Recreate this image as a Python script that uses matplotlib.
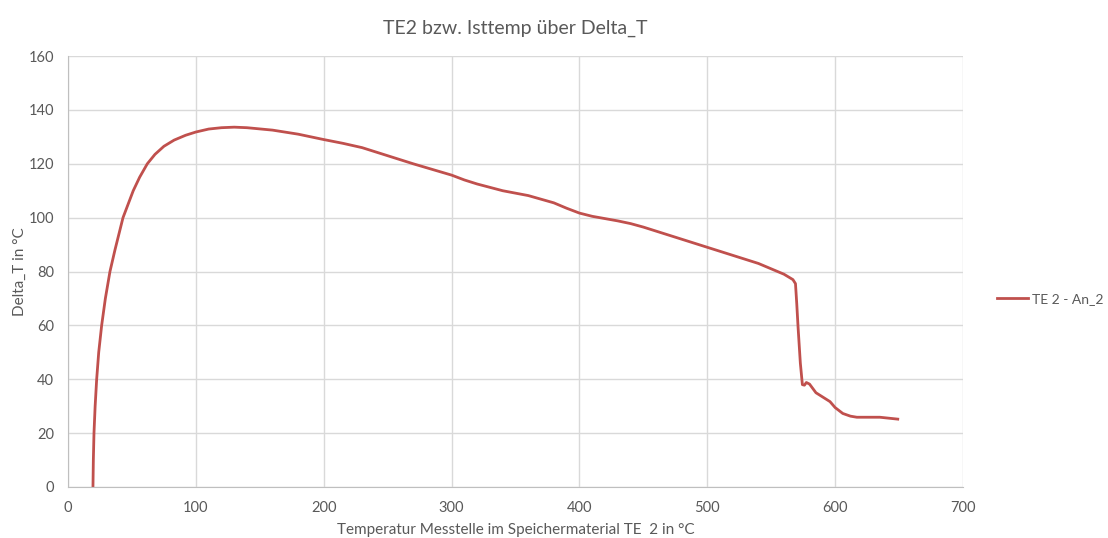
import matplotlib.pyplot as plt

# TE 2 temperature vs. Delta_T
temp_te2 = [19.5, 19.8, 20.3, 21.2, 22.4, 24.0, 26.3, 29.2, 32.8, 36.7, 43, 47,
            51, 56, 62, 68, 75, 83, 92, 100, 110, 120, 130, 140, 160, 180, 200,
            215, 230, 250, 270, 300, 310, 320, 340, 360, 380, 390, 400, 410, 430,
            440, 450, 460, 470, 480, 490, 500, 510, 520, 530, 540, 550, 555, 560,
            567, 569, 570, 571, 572.8, 574.4, 576, 577.5, 580, 585, 590, 596, 600,
            606, 612, 617, 625, 635, 649]
delta_t = [0, 10, 20, 30, 40, 50, 60, 70, 80, 88, 100, 105,
           110, 115, 120, 123.5, 126.5, 128.8, 130.6, 131.8, 132.9, 133.4, 133.6,
           133.4, 132.5, 131, 129, 127.6, 126, 123, 120, 115.8, 114, 112.5, 110,
           108.2, 105.5, 103.5, 101.7, 100.5, 98.8, 97.8, 96.5, 95, 93.5, 92,
           90.5, 89, 87.5, 86, 84.5, 83, 81, 80, 79, 77, 75.5, 68, 59.5, 46, 38,
           37.8, 38.8, 38.2, 35, 33.5, 31.7, 29.5, 27.3, 26.3, 25.9, 25.9, 25.9,
           25.2]

plt.rcParams['font.family'] = ['Lato', 'DejaVu Sans']
text_col = '#595959'

fig = plt.figure(figsize=(11.08, 5.38), dpi=100)
ax = fig.add_axes([0.0614, 0.0948, 0.8077, 0.801])

ax.plot(temp_te2, delta_t, color='#C0504D', lw=2.0, label='TE 2 - An_2')

ax.set_xlim(0, 700)
ax.set_ylim(0, 160)
ax.set_xticks(range(0, 701, 100))
ax.set_yticks(range(0, 161, 20))
ax.grid(True, color='#D9D9D9', lw=1.0)
ax.set_axisbelow(True)

for side in ('top', 'right'):
    ax.spines[side].set_visible(False)
for side in ('left', 'bottom'):
    ax.spines[side].set_color('#BFBFBF')
ax.tick_params(length=0, colors=text_col, labelsize=10.5, pad=10)

ax.set_title('TE2 bzw. Isttemp über Delta_T', fontsize=14, color=text_col, pad=16)
ax.set_xlabel('Temperatur Messtelle im Speichermaterial TE  2 in °C',
              fontsize=11, color=text_col, labelpad=6)
ax.set_ylabel('Delta_T in °C', fontsize=11, color=text_col, labelpad=1)

fig.legend(loc='center left', bbox_to_anchor=(0.9, 0.445), frameon=False,
           fontsize=10, labelcolor=text_col, handlelength=2.2, handletextpad=0.3,
           borderaxespad=0, borderpad=0)

fig.savefig('out.png', dpi=100)
